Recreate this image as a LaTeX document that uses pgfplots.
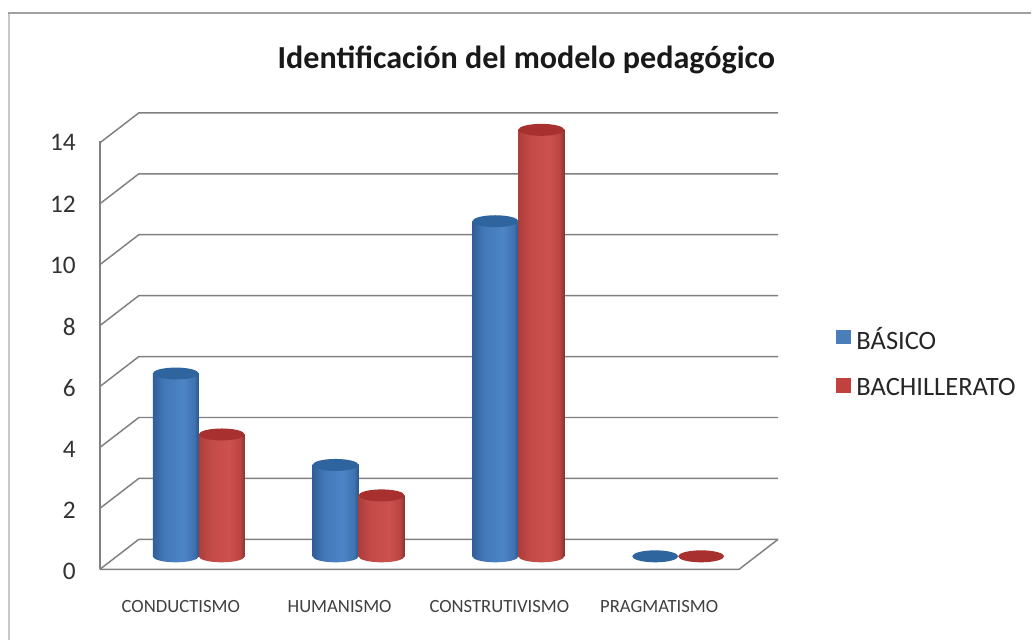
\documentclass[border=0pt]{standalone}
\usepackage{fontspec}
\setmainfont{Carlito}
\usepackage{pgfplots}
\usepackage{pgfplotstable}
\pgfplotsset{compat=1.18}
\definecolor{gridgray}{HTML}{808080}
\definecolor{framegray}{HTML}{A0A0A0}
\definecolor{frameleft}{HTML}{C8C8C8}
\definecolor{bluetop}{HTML}{2F659F}
\definecolor{redtop}{HTML}{A8302E}
\definecolor{bluekey}{HTML}{4A7EBB}
\definecolor{redkey}{HTML}{C0413D}
\pgfdeclarehorizontalshading{cylblueb}{100bp}{rgb(0bp)=(0.17,0.34,0.55);rgb(25bp)=(0.19,0.37,0.60);rgb(37bp)=(0.26,0.47,0.72);rgb(58bp)=(0.30,0.52,0.78);rgb(70bp)=(0.25,0.45,0.69);rgb(75bp)=(0.17,0.34,0.55);rgb(100bp)=(0.17,0.34,0.55)}
\pgfdeclarehorizontalshading{cylredb}{100bp}{rgb(0bp)=(0.55,0.20,0.20);rgb(25bp)=(0.68,0.24,0.23);rgb(37bp)=(0.76,0.29,0.28);rgb(58bp)=(0.80,0.32,0.31);rgb(70bp)=(0.73,0.27,0.26);rgb(75bp)=(0.54,0.20,0.20);rgb(100bp)=(0.54,0.20,0.20)}
\pgfdeclareplotmark{bluebase}{\path[draw=none,shading=cylblueb,rotate=6] (0pt,0pt) ellipse (17.25pt and 4.5pt);}
\pgfdeclareplotmark{redbase}{\path[draw=none,shading=cylredb,rotate=6] (0pt,0pt) ellipse (17.25pt and 4.5pt);}
\pgfdeclareplotmark{bluetop}{\path[draw=none,fill=bluetop,rotate=6] (0pt,0pt) ellipse (17.25pt and 4.5pt);}
\pgfdeclareplotmark{redtop}{\path[draw=none,fill=redtop,rotate=6] (0pt,0pt) ellipse (17.25pt and 4.5pt);}
\begin{document}
\begin{tikzpicture}[x=0.75pt,y=-0.75pt]
\path[fill=white] (0,0) rectangle (1032,641);
\draw[frameleft,line width=2.2pt] (9,13) -- (9,641);
\draw[framegray,line width=1.9pt] (8,13) -- (1032,13);
\foreach \y in {113,174,235,296,357,418,479,540}
  \draw[gridgray,line width=1.1pt,line join=miter] (100,\y+30) -- (139,\y) -- (779,\y);
\draw[gridgray,line width=1.1pt] (100,570) -- (740,570) -- (779,540);
\node[font=\bfseries\fontsize{24.1}{27}\selectfont,text=black!90,inner sep=0pt] at (527,60) {Identificación del modelo pedagógico};
\begin{axis}[
  at={(75pt,-427.5pt)},anchor=south west,scale only axis,
  width=480pt,height=321.75pt,
  xmin=100,xmax=740,ymin=0,ymax=14,
  axis x line=none,axis y line=left,
  axis line style={gridgray,line width=1.1pt,-},
  ytick={0,2,...,14},
  ytick style={draw=none},
  /pgf/number format/assume math mode=true,
  yticklabel style={font=\fontsize{19}{22}\selectfont,text=black!80,anchor=east,inner sep=0pt,xshift=-15.75pt,yshift=-1.5pt},
  clip=false,
]
\end{axis}
\begin{axis}[
  at={(75pt,-427.5pt)},anchor=south west,scale only axis,
  width=480pt,height=321.75pt,
  xmin=100,xmax=740,ymin=0,ymax=14,
  axis y line=none,axis x line=bottom,
  axis line style={draw=none},
  xtick={181,340,500,660},
  xticklabels={CONDUCTISMO,HUMANISMO,CONSTRUTIVISMO,PRAGMATISMO},
  xtick style={draw=none},
  xticklabel style={font=\fontsize{14}{16}\selectfont,text=black!75,anchor=center,yshift=-25.5pt},
]
\end{axis}
\begin{axis}[
  at={(75pt,-417.75pt)},anchor=south west,scale only axis,
  width=509.25pt,height=320.25pt,
  xmin=-0.61875,xmax=3.625,ymin=0,ymax=14,
  hide axis,clip=false,
  legend style={at={(rel axis cs:1.0854,0.543)},anchor=north west,draw=none,fill=none,inner sep=0pt,
    font=\fontsize{19.9}{22}\selectfont,text=black!85,row sep=16pt,cells={anchor=west}},
  legend image code/.code={\path[draw=none,#1] (0pt,-3.5pt) rectangle (11pt,7.5pt);\path (13pt,0pt);},
  bar width=34.5pt,
]
\addlegendimage{fill=bluekey}
\addlegendentry{BÁSICO}
\addlegendimage{fill=redkey}
\addlegendentry{BACHILLERATO}
% BASICO
\addplot[forget plot,only marks,mark=bluebase,mark options={xshift=-17.25pt}] coordinates {(0,0) (1,0) (2,0)};
\addplot[forget plot,ybar,bar shift=-17.25pt,draw=none,shading=cylblueb] coordinates {(0,6)};
\addplot[forget plot,ybar,bar shift=-17.25pt,draw=none,shading=cylblueb] coordinates {(1,3)};
\addplot[forget plot,ybar,bar shift=-17.25pt,draw=none,shading=cylblueb] coordinates {(2,11)};
\addplot[forget plot,only marks,mark=bluetop,mark options={xshift=-17.25pt}] coordinates {(0,6) (1,3) (2,11) (3,0)};
% BACHILLERATO
\addplot[forget plot,only marks,mark=redbase,mark options={xshift=17.25pt}] coordinates {(0,0) (1,0) (2,0)};
\addplot[forget plot,ybar,bar shift=17.25pt,draw=none,shading=cylredb] coordinates {(0,4)};
\addplot[forget plot,ybar,bar shift=17.25pt,draw=none,shading=cylredb] coordinates {(1,2)};
\addplot[forget plot,ybar,bar shift=17.25pt,draw=none,shading=cylredb] coordinates {(2,14)};
\addplot[forget plot,only marks,mark=redtop,mark options={xshift=17.25pt}] coordinates {(0,4) (1,2) (2,14) (3,0)};
\end{axis}
\end{tikzpicture}
\end{document}
